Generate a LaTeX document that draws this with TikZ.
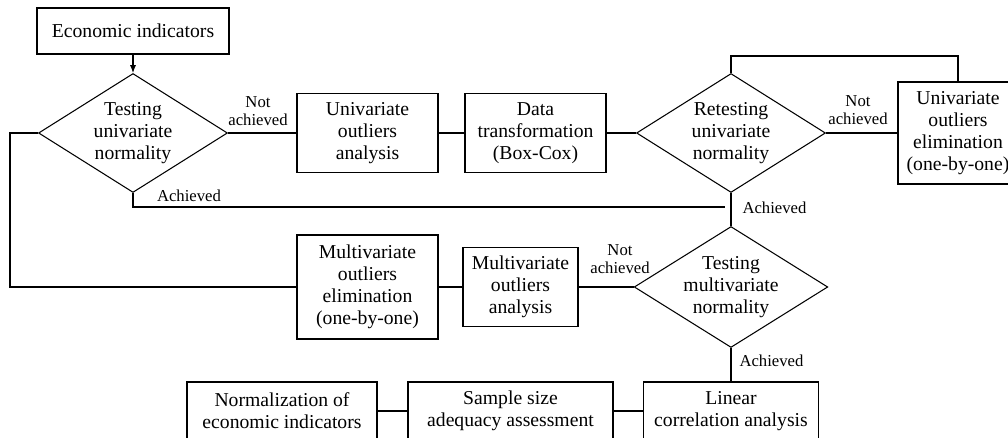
\documentclass[tikz,border=0pt]{standalone}
\usepackage{fontspec}
\setmainfont{Liberation Serif}
\usetikzlibrary{shapes.geometric,arrows.meta}

\begin{document}
\begin{tikzpicture}[x=0.02cm, y=-0.02cm, line width=0.6pt,
    box/.style={draw, align=center, inner sep=0pt, font=\fontsize{11.2}{12.6}\selectfont},
    decision/.style={draw, shape=diamond, aspect=1.6, inner sep=0pt,
      minimum width=3.78cm, minimum height=2.38cm, align=center,
      font=\fontsize{11.2}{12.6}\selectfont},
    lbl/.style={align=center, inner sep=0pt, font=\fontsize{9.5}{10.5}\selectfont}]
  \useasboundingbox (0,0) rectangle (1008,438);
  \clip (0,0) rectangle (1008,438);

  % univariate part
  \node[box, minimum width=3.84cm, minimum height=0.92cm] (econ) at (133,31) {Economic indicators};
  \node[decision] (tun) at (133,133) {Testing\\univariate\\normality};
  \node[box, minimum width=2.82cm, minimum height=1.58cm] (uoa) at (367.5,133) {Univariate\\outliers\\analysis};
  \node[box, minimum width=2.82cm, minimum height=1.58cm] (dt) at (535.5,133) {Data\\transformation\\(Box-Cox)};
  \node[decision] (rtun) at (731,133) {Retesting\\univariate\\normality};
  \node[box, minimum width=2.40cm, minimum height=2.04cm] (uoe) at (958,133) {Univariate\\outliers\\elimination\\(one-by-one)};

  % multivariate part
  \node[decision] (tmn) at (731,287) {Testing\\multivariate\\normality};
  \node[box, minimum width=2.30cm, minimum height=1.58cm] (moa) at (520.5,287) {Multivariate\\outliers\\analysis};
  \node[box, minimum width=2.82cm, minimum height=2.08cm] (moe) at (367.5,287) {Multivariate\\outliers\\elimination\\(one-by-one)};

  % last row
  \node[box, minimum width=3.80cm, minimum height=1.16cm] (norm) at (282,411) {Normalization of\\economic indicators};
  \node[box, minimum width=4.10cm, minimum height=1.16cm] (sample) at (510.5,411) {Sample size\\adequacy assessment};
  \node[box, minimum width=3.50cm, minimum height=1.16cm] (lin) at (731,411) {Linear\\correlation analysis};

  \coordinate (loop) at (958,56);
  \coordinate (achEnd) at (725,207);
  \coordinate (back) at (10,133);

  \draw[-{Latex[length=4.5pt,width=3.5pt]}] (econ) -- (tun);
  \draw (tun.east) -- (uoa.west);
  \draw (uoa) -- (dt);
  \draw (dt) -- (rtun.west);
  \draw (rtun.east) -- (uoe.west);
  \draw (rtun.north) |- (loop) -- (uoe.north);
  \draw (tun.south) |- (achEnd);
  \draw (rtun.south) -- (tmn.north);
  \draw (tun.west) -- (back) |- (moe.west);
  \draw (moe) -- (moa);
  \draw (moa) -- (tmn.west);
  \draw (tmn.south) -- (lin.north);
  \draw (norm) -- (sample);
  \draw (sample) -- (lin);

  % labels
  \node[lbl] (na1) at (258,111) {Not\\achieved};
  \node[lbl] (na2) at (858,110) {Not\\achieved};
  \node[lbl] (na3) at (620,259) {Not\\achieved};
  \node[lbl] (a1) at (189,196) {Achieved};
  \node[lbl, anchor=west] (a2) at (742,208) {Achieved};
  \node[lbl, anchor=west] (a3) at (739,361) {Achieved};
\end{tikzpicture}
\end{document}
